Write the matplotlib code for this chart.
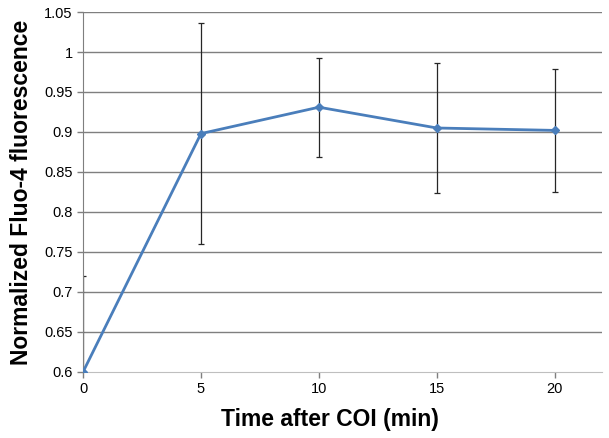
import numpy as np
import matplotlib.pyplot as plt

plt.rcParams['font.family'] = ['Liberation Sans', 'DejaVu Sans']

# Data
time_min = [0, 5, 10, 15, 20]
fluo = [0.600, 0.898, 0.931, 0.905, 0.902]
fluo_err = [0.120, 0.138, 0.062, 0.081, 0.077]
yticks = [0.6, 0.65, 0.7, 0.75, 0.8, 0.85, 0.9, 0.95, 1.0, 1.05]
ytick_labels = ["0.6", "0.65", "0.7", "0.75", "0.8", "0.85", "0.9", "0.95", "1", "1.05"]

fig = plt.figure(figsize=(6.09, 4.38), dpi=100)
ax = fig.add_axes([0.1363, 0.1507, 0.8522, 0.8219])

# Gridlines
for yv in yticks[1:]:
    ax.axhline(yv, color='#7f7f7f', lw=1.0, zorder=1)

ax.errorbar(time_min, fluo, yerr=fluo_err, fmt='none', ecolor='#262626',
            elinewidth=0.9, capsize=2.5, capthick=0.9, zorder=2)
ax.plot(time_min, fluo, color='#4a7ebb', lw=2.0, marker='D', ms=4,
        zorder=3)

ax.set_xlim(0, 22)
ax.set_ylim(0.6, 1.05)
ax.set_xticks(time_min)
ax.set_yticks(yticks)
ax.set_yticklabels(ytick_labels)
ax.tick_params(axis='both', labelsize=10.5, colors='#7f7f7f', labelcolor='black',
               length=4, width=1)

for s in ['top', 'right']:
    ax.spines[s].set_visible(False)
ax.spines['left'].set_color('#7f7f7f')
ax.spines['bottom'].set_color('#bfbfbf')

ax.set_xlabel("Time after COI (min)", fontsize=16.5, fontweight='bold')
ax.xaxis.set_label_coords(0.475, -0.1)
ax.set_ylabel("Normalized Fluo-4 fluorescence", fontsize=16.5, fontweight='bold',
              labelpad=8)

fig.savefig("out.png", dpi=100)
